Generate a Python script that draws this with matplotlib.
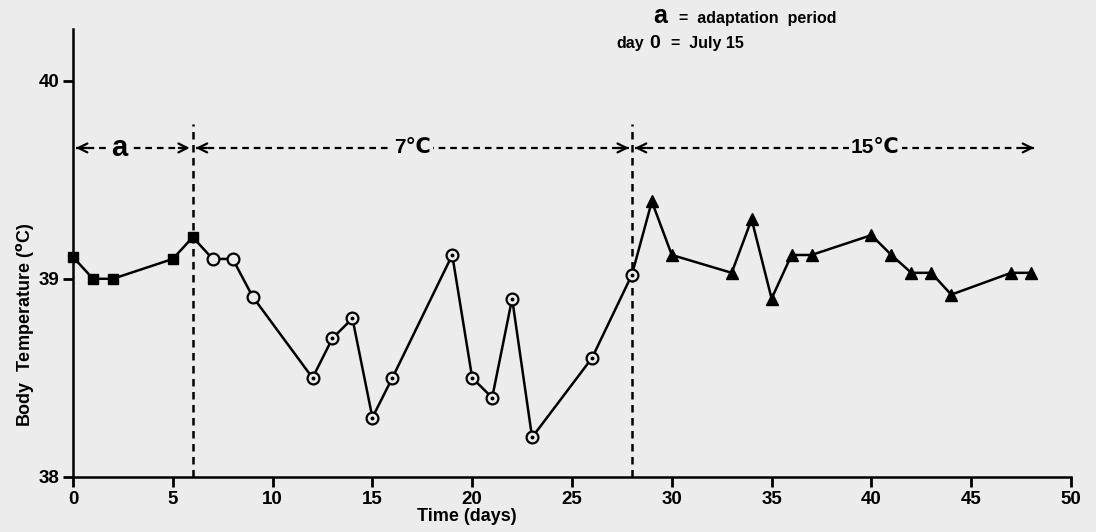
import matplotlib
matplotlib.use('Agg')
import matplotlib.pyplot as plt

# body temperature readings
sq_days = [0, 1, 2, 5, 6]
sq_temp = [39.11, 39.0, 39.0, 39.10, 39.21]

circ_days = [7, 8, 9, 12, 13, 14, 15, 16, 19, 20, 21, 22, 23, 26, 28]
circ_temp = [39.10, 39.10, 38.91, 38.50, 38.70, 38.80, 38.30, 38.50,
             39.12, 38.50, 38.40, 38.90, 38.20, 38.60, 39.02]
dot_from = 3  # circles from day 12 on have a centre dot

tri_days = [29, 30, 33, 34, 35, 36, 37, 40, 41, 42, 43, 44, 47, 48]
tri_temp = [39.39, 39.12, 39.03, 39.30, 38.90, 39.12, 39.12, 39.22,
            39.12, 39.03, 39.03, 38.92, 39.03, 39.03]

# periods: (start, end, label, label position)
periods = [(0, 6, 'a', 2.3), (6, 28, '7℃', 17.0), (28, 48.3, '15℃', 40.2)]
period_y = 39.66
switch_days = [6, 28]

xticks = list(range(0, 55, 5))
yticks = [38, 39, 40]

BG = '#ececec'
W, H = 1096, 532

plt.rcParams['font.family'] = ['Liberation Sans', 'DejaVu Sans']
plt.rcParams['font.weight'] = 'bold'

fig = plt.figure(figsize=(W / 100, H / 100), dpi=100, facecolor=BG)
ax = fig.add_axes([73 / W, 1 - 477 / H, 998 / W, 448 / H], facecolor=BG)

all_days = sq_days + circ_days + tri_days
all_temp = sq_temp + circ_temp + tri_temp
ax.plot(all_days, all_temp, color='black', lw=1.8, zorder=2, clip_on=False)

ax.plot(sq_days, sq_temp, ls='none', marker='s', ms=7.5, color='black',
        zorder=3, clip_on=False)
ax.plot(circ_days, circ_temp, ls='none', marker='o', ms=8.5, mfc=BG,
        mec='black', mew=1.6, zorder=3, clip_on=False)
ax.plot(circ_days[dot_from:], circ_temp[dot_from:], ls='none', marker='o',
        ms=1.8, color='black', zorder=4)
ax.plot(tri_days, tri_temp, ls='none', marker='^', ms=8, color='black',
        zorder=3, clip_on=False)

# vertical dashed separators
for d in switch_days:
    ax.plot([d, d], [38, 39.78], color='black', lw=1.8, ls=(0, (3, 2.2)),
            zorder=1, clip_on=False)

# double-headed dashed arrows with labels
for x0, x1, lab, xl in periods:
    ax.plot([x0 + 0.15, x1 - 0.15], [period_y, period_y], color='black',
            lw=1.6, ls=(0, (3, 2.2)), zorder=1)
    for tip, tail in [(x0 + 0.15, x0 + 0.7), (x1 - 0.15, x1 - 0.7)]:
        ax.annotate('', xy=(tip, period_y), xytext=(tail, period_y),
                    arrowprops=dict(arrowstyle='->', lw=1.6, color='black',
                                    mutation_scale=16, shrinkA=0, shrinkB=0))
    fs = 21 if lab == 'a' else 15
    ax.text(xl, period_y, lab, ha='center', va='center', fontsize=fs,
            fontweight='bold', zorder=5,
            bbox=dict(boxstyle='square,pad=0.1', fc=BG, ec='none'))

ax.set_xlim(0, 50)
ax.set_ylim(38, 40.26)
ax.set_xticks(xticks)
ax.set_yticks(yticks)
ax.tick_params(direction='out', length=7, width=2, labelsize=13.5, pad=3)
for s in ['top', 'right']:
    ax.spines[s].set_visible(False)
for s in ['left', 'bottom']:
    ax.spines[s].set_linewidth(1.8)

ax.set_xlabel('Time (days)', fontsize=13, fontweight='bold')
ax.xaxis.set_label_coords((467 - 73) / 998, (477 - 508) / 448)
ax.set_ylabel('Body  Temperature ($^{\\rm o}$C)', fontsize=13,
              fontweight='bold')
ax.yaxis.set_label_coords((36 - 73) / 998, (477 - 325) / 448)

# notes top right
fig.text(660 / W, 1 - 23 / H, 'a', fontsize=18, ha='center', va='baseline')
fig.text(679 / W, 1 - 23 / H, '=  adaptation  period', fontsize=11.5,
         ha='left', va='baseline')
fig.text(616 / W, 1 - 48 / H, 'day', fontsize=11.5, ha='left',
         va='baseline')
fig.text(655 / W, 1 - 48 / H, '0', fontsize=14, ha='center',
         va='baseline')
fig.text(671 / W, 1 - 48 / H, '=  July 15', fontsize=11.5, ha='left',
         va='baseline')

fig.savefig('out.png', dpi=100, facecolor=BG)
